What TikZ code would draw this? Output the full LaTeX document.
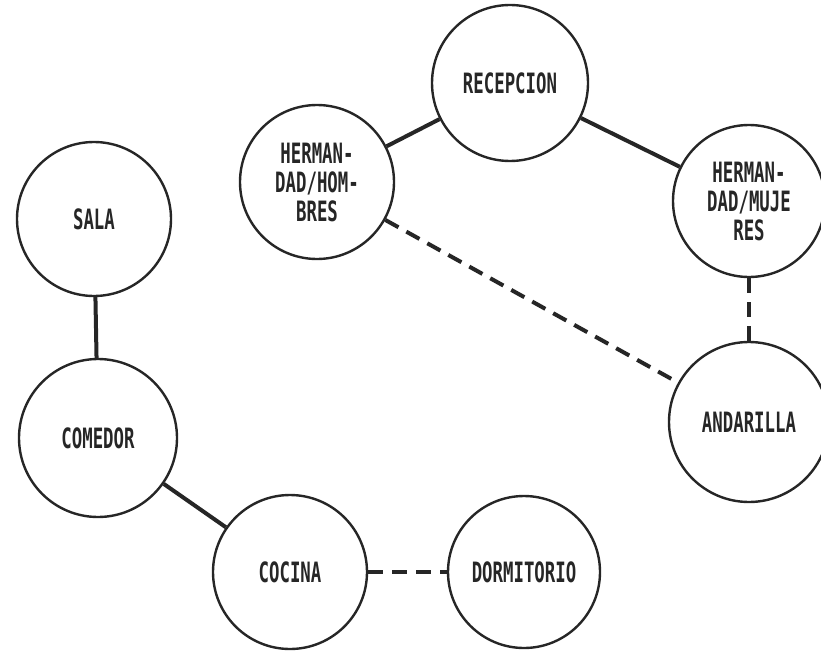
\documentclass[tikz,border=0pt]{standalone}
\usepackage{fontspec}
\newfontfamily\plotfont[FakeStretch=0.62]{DejaVu Sans Mono Bold}
\begin{document}
\begin{tikzpicture}[x=1pt,y=-1pt,
  room/.style={circle,draw=black!85,line width=2.4pt,minimum size=154pt,inner sep=0pt,
    align=center,font=\plotfont\fontsize{28}{29}\selectfont,text=black!85},
  link/.style={draw=black!85,line width=4pt},
  dlink/.style={draw=black!85,line width=4pt,dash pattern=on 15pt off 9pt}]
\useasboundingbox (0,0) rectangle (821,650);
\node[room] (sala) at (94,219) {SALA};
\node[room,minimum size=158pt] (comedor) at (98,438) {COMEDOR};
\node[room] (cocina) at (290,572) {COCINA};
\node[room,minimum size=152pt] (dorm) at (524,572) {DORMITORIO};
\node[room,minimum size=156pt] (recep) at (510,83) {RECEPCION};
\node[room] (hh) at (317,182) {HERMAN-\\DAD/HOM-\\BRES};
\node[room,minimum size=152pt] (hm) at (749,201) {HERMAN-\\DAD/MUJE\\RES};
\node[room,minimum size=160pt] (and) at (749,422) {ANDARILLA};
\draw[link] (sala) -- (comedor);
\draw[link] (comedor) -- (cocina);
\draw[dlink] (cocina) -- (dorm);
\draw[link] (hh) -- (recep);
\draw[link] (recep) -- (hm);
\draw[dlink] (hm) -- (and);
\draw[dlink] (hh) -- (and);
\end{tikzpicture}
\end{document}
